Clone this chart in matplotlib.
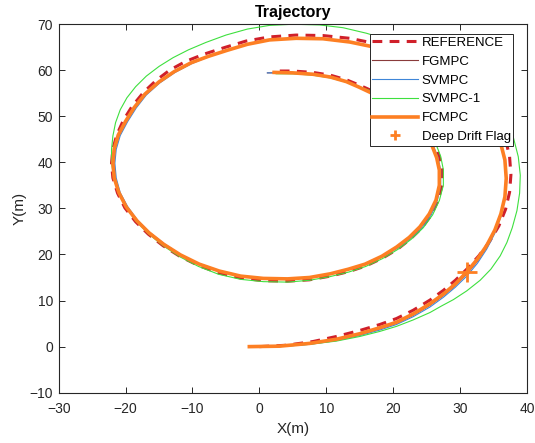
import numpy as np
import matplotlib
matplotlib.use("Agg")
import matplotlib.pyplot as plt

# trajectory points, (x, y) in metres
ref_xy = [
    (0.0, 0.0), (4.0, 0.3), (8.0, 1.1), (11.5, 2.2), (15.0, 3.5), (18.0, 4.8),
    (20.5, 6.1), (23.0, 7.9), (25.5, 10.1), (27.5, 12.2), (29.3, 14.4), (31.0, 16.8),
    (32.8, 19.7), (34.4, 22.8), (35.8, 26.2), (36.8, 29.8), (37.4, 33.5), (37.6, 37.3),
    (37.4, 41.2), (36.8, 45.0), (35.6, 48.8), (33.8, 52.5), (31.4, 56.0), (28.5, 59.1),
    (25.2, 61.8), (21.5, 64.0), (17.6, 65.7), (13.5, 66.9), (9.5, 67.5), (5.5, 67.6),
    (1.5, 67.2), (-2.0, 66.3), (-5.2, 64.9), (-8.2, 63.5), (-11.0, 61.9), (-13.4, 60.0),
    (-15.4, 57.8), (-17.3, 55.2), (-19.0, 52.2), (-20.3, 49.2), (-21.3, 46.0), (-21.9, 42.9),
    (-22.1, 39.8), (-21.9, 36.6), (-21.2, 33.3), (-20.1, 30.1), (-18.5, 27.1), (-16.6, 24.4),
    (-14.4, 21.9), (-11.9, 19.6), (-9.1, 17.6), (-6.1, 16.0), (-2.8, 14.9), (0.6, 14.3),
    (4.2, 14.2), (7.5, 14.5), (10.6, 15.3), (13.4, 16.3), (15.9, 17.5), (18.4, 19.2),
    (20.7, 21.2), (22.6, 23.4), (24.3, 25.8), (25.7, 28.6), (26.7, 31.7), (27.3, 35.0),
    (27.3, 38.4), (26.9, 41.2), (26.1, 44.2), (24.9, 47.2), (23.2, 50.1), (21.1, 52.5),
    (19.0, 54.1), (17.0, 55.4), (15.0, 56.7), (13.0, 57.9), (10.6, 58.9), (8.0, 59.5),
    (5.0, 59.8), (2.2, 59.8),
]

fgmpc_xy = [
    (-1.5, 0.0), (3.0, 0.05), (7.5, 0.6), (11.5, 1.45), (15.0, 2.6), (18.0, 3.85),
    (20.5, 5.05), (23.0, 6.8), (25.5, 8.95), (27.5, 11.05), (29.3, 13.25), (31.0, 15.75),
    (32.6, 18.55), (34.0, 21.6), (35.2, 24.95), (36.1, 28.5), (36.7, 32.25), (36.9, 36.3),
    (36.7, 40.35), (36.0, 44.4), (34.8, 48.25), (33.0, 51.95), (30.7, 55.35), (28.0, 58.4),
    (24.8, 61.0), (21.3, 63.2), (17.5, 64.9), (13.5, 66.1), (9.5, 66.8), (5.5, 66.9),
    (1.5, 66.55), (-1.8, 65.6), (-4.8, 64.3), (-7.6, 62.95), (-10.15, 61.5), (-12.65, 59.6),
    (-14.95, 57.35), (-17.0, 54.7), (-18.55, 51.85), (-19.85, 48.85), (-20.95, 45.85), (-21.55, 42.85),
    (-21.75, 39.8), (-21.55, 36.6), (-20.9, 33.4), (-19.8, 30.35), (-18.25, 27.35), (-16.45, 24.75),
    (-14.25, 22.25), (-11.8, 19.95), (-9.0, 17.95), (-6.0, 16.45), (-2.8, 15.35), (0.6, 14.85),
    (4.2, 14.75), (7.5, 15.05), (10.6, 15.8), (13.3, 16.75), (15.8, 17.85), (18.3, 19.5),
    (20.55, 21.45), (22.5, 23.55), (24.15, 25.85), (25.55, 28.7), (26.5, 31.75), (27.0, 35.0),
    (27.0, 38.3), (26.6, 41.0), (25.8, 44.0), (24.6, 47.0), (22.9, 49.9), (20.8, 52.25),
    (18.75, 53.75), (16.8, 55.05), (14.9, 56.35), (13.0, 57.55), (10.6, 58.55), (8.0, 59.15),
    (5.0, 59.45), (1.2, 59.4),
]

svmpc_xy = [
    (-1.5, 0.0), (3.0, 0.0), (7.5, 0.5), (11.5, 1.3), (15.0, 2.4), (18.0, 3.6),
    (20.5, 4.8), (23.0, 6.5), (25.5, 8.6), (27.5, 10.7), (29.3, 12.9), (31.0, 15.3),
    (32.6, 18.1), (34.0, 21.2), (35.2, 24.6), (36.1, 28.2), (36.7, 32.0), (36.9, 36.1),
    (36.7, 40.2), (36.0, 44.3), (34.8, 48.2), (33.0, 51.9), (30.7, 55.3), (28.0, 58.4),
    (24.8, 61.0), (21.3, 63.2), (17.5, 64.9), (13.5, 66.1), (9.5, 66.8), (5.5, 66.9),
    (1.5, 66.55), (-1.8, 65.6), (-4.8, 64.3), (-7.6, 62.9), (-10.1, 61.4), (-12.6, 59.5),
    (-14.9, 57.2), (-16.9, 54.6), (-18.4, 51.8), (-19.7, 48.8), (-20.8, 45.8), (-21.4, 42.8),
    (-21.6, 39.8), (-21.4, 36.6), (-20.8, 33.4), (-19.7, 30.4), (-18.2, 27.4), (-16.4, 24.8),
    (-14.2, 22.3), (-11.8, 20.0), (-9.0, 18.0), (-6.0, 16.5), (-2.8, 15.4), (0.6, 14.9),
    (4.2, 14.8), (7.5, 15.1), (10.6, 15.8), (13.3, 16.7), (15.8, 17.8), (18.3, 19.4),
    (20.6, 21.3), (22.6, 23.4), (24.3, 25.7), (25.7, 28.6), (26.6, 31.7), (27.1, 35.0),
    (27.1, 38.3), (26.7, 41.0), (25.9, 44.0), (24.7, 47.0), (23.0, 49.9), (20.9, 52.3),
    (18.8, 53.8), (16.8, 55.1), (14.9, 56.4), (13.0, 57.6), (10.6, 58.6), (8.0, 59.1),
    (5.0, 59.4), (1.2, 59.4),
]

svmpc1_xy = [
    (-1.5, 0.0), (3.0, 0.0), (7.5, 0.5), (11.5, 1.2), (15.0, 2.2), (18.0, 3.3),
    (20.5, 4.4), (23.0, 5.8), (25.5, 7.4), (27.2, 8.8), (29.0, 10.2), (31.0, 12.1),
    (33.0, 14.4), (34.6, 16.8), (36.0, 19.7), (37.0, 22.6), (37.8, 25.8), (38.5, 29.5),
    (38.9, 33.3), (39.0, 37.2), (38.7, 41.2), (38.0, 45.2), (36.8, 49.0), (35.1, 52.7),
    (32.9, 56.1), (30.2, 59.3), (27.0, 62.1), (23.4, 64.5), (19.6, 66.4), (16.0, 68.0),
    (12.5, 69.2), (9.0, 69.8), (5.0, 69.95), (1.5, 69.7), (-1.8, 68.9), (-5.0, 67.6),
    (-8.0, 66.0), (-10.6, 64.4), (-12.9, 62.7), (-15.0, 60.8), (-16.9, 58.7), (-18.5, 56.4),
    (-19.8, 54.0), (-20.8, 51.4), (-21.5, 48.6), (-21.9, 45.7), (-22.1, 42.8), (-22.1, 40.0),
    (-21.8, 36.9), (-21.1, 33.6), (-20.0, 30.4), (-18.5, 27.3), (-16.6, 24.5), (-14.4, 21.9),
    (-11.9, 19.5), (-9.1, 17.4), (-6.1, 15.7), (-2.8, 14.6), (0.6, 14.1), (4.2, 14.0),
    (7.5, 14.4), (10.6, 15.2), (13.4, 16.2), (15.9, 17.4), (18.4, 19.1), (20.7, 21.1),
    (22.7, 23.3), (24.5, 25.8), (25.9, 28.6), (26.9, 31.7), (27.5, 35.0), (27.5, 38.4),
    (27.1, 41.3), (26.3, 44.3), (25.1, 47.3), (23.4, 50.2), (21.3, 52.6), (19.1, 54.3),
    (17.0, 55.3), (15.0, 56.4), (13.0, 57.4), (10.6, 58.3), (8.0, 58.9), (5.0, 59.2),
    (2.5, 59.2),
]

fcmpc_xy = [
    (-1.5, 0.0), (3.0, 0.1), (7.5, 0.7), (11.5, 1.6), (15.0, 2.8), (18.0, 4.1),
    (20.5, 5.3), (23.0, 7.1), (25.5, 9.3), (27.5, 11.4), (29.3, 13.6), (31.0, 16.2),
    (32.6, 19.0), (34.0, 22.0), (35.2, 25.3), (36.1, 28.8), (36.7, 32.5), (36.9, 36.5),
    (36.7, 40.5), (36.0, 44.5), (34.8, 48.3), (33.0, 52.0), (30.7, 55.4), (28.0, 58.4),
    (24.8, 61.0), (21.3, 63.2), (17.5, 64.9), (13.5, 66.1), (9.5, 66.8), (5.5, 66.9),
    (1.5, 66.55), (-1.8, 65.6), (-4.8, 64.3), (-7.6, 63.0), (-10.2, 61.6), (-12.7, 59.7),
    (-15.0, 57.45), (-17.1, 54.8), (-18.7, 51.9), (-20.0, 48.9), (-21.1, 45.9), (-21.7, 42.9),
    (-21.9, 39.8), (-21.7, 36.6), (-21.0, 33.4), (-19.9, 30.3), (-18.3, 27.3), (-16.5, 24.7),
    (-14.3, 22.2), (-11.8, 19.9), (-9.0, 17.9), (-6.0, 16.4), (-2.8, 15.3), (0.6, 14.8),
    (4.2, 14.7), (7.5, 15.0), (10.6, 15.8), (13.3, 16.8), (15.8, 17.9), (18.3, 19.6),
    (20.5, 21.6), (22.4, 23.7), (24.0, 26.0), (25.4, 28.8), (26.4, 31.8), (26.9, 35.0),
    (26.9, 38.3), (26.5, 41.0), (25.7, 44.0), (24.5, 47.0), (22.8, 49.9), (20.7, 52.2),
    (18.7, 53.7), (16.8, 55.0), (14.9, 56.3), (13.0, 57.5), (10.6, 58.5), (8.0, 59.1),
    (5.0, 59.4), (2.2, 59.5),
]

flag_x = [31.0]
flag_y = [16.2]

xticks = [-30, -20, -10, 0, 10, 20, 30, 40]
yticks = [-10, 0, 10, 20, 30, 40, 50, 60, 70]

plt.rcParams['font.family'] = ['Liberation Sans', 'DejaVu Sans']

fig = plt.figure(figsize=(5.35, 4.43), dpi=100)
ax = fig.add_axes([0.1097, 0.1135, 0.8753, 0.8323])

ref = np.array(ref_xy)
fg = np.array(fgmpc_xy)
sv = np.array(svmpc_xy)
sv1 = np.array(svmpc1_xy)
fc = np.array(fcmpc_xy)

ax.plot(ref[:, 0], ref[:, 1], '--', color='#d0202a', lw=2.2, dashes=(3.2, 2.4), label='REFERENCE')
ax.plot(fg[:, 0], fg[:, 1], color='#8a3b3b', lw=0.8, label='FGMPC')
ax.plot(sv[:, 0], sv[:, 1], color='#3f86d8', lw=0.8, label='SVMPC')
ax.plot(sv1[:, 0], sv1[:, 1], color='#3ee03e', lw=0.8, label='SVMPC-1')
ax.plot(fc[:, 0], fc[:, 1], color='#fd7f23', lw=2.6, label='FCMPC')
ax.plot(flag_x, flag_y, '+', color='#fd7f23', ms=14, mew=2, ls='none', label='Deep Drift Flag')

ax.set_xlim(-30, 40)
ax.set_ylim(-10, 70)
ax.set_xticks(xticks)
ax.set_yticks(yticks)
ax.tick_params(direction='in', length=4, width=0.7, top=True, right=True,
               labelsize=10, colors='#262626')
ax.tick_params(axis='x', pad=7)
ax.tick_params(axis='y', pad=4)
for s in ax.spines.values():
    s.set_color('#262626')
    s.set_linewidth(0.8)

ax.set_title('Trajectory', fontsize=11.5, fontweight='bold', pad=5)
ax.set_xlabel('X(m)', fontsize=11, color='#262626', labelpad=4)
ax.set_ylabel('Y(m)', fontsize=11, color='#262626', labelpad=2)

leg = ax.legend(loc='upper right', bbox_to_anchor=(0.971, 0.973), fontsize=9.5,
                fancybox=False, framealpha=1, edgecolor='#262626',
                handlelength=3.5, handletextpad=0.25, labelspacing=0.5,
                borderpad=0.2, borderaxespad=0)
leg.get_frame().set_linewidth(0.7)
leg.legend_handles[5].set_markersize(7)

fig.savefig('out.png', dpi=100)
